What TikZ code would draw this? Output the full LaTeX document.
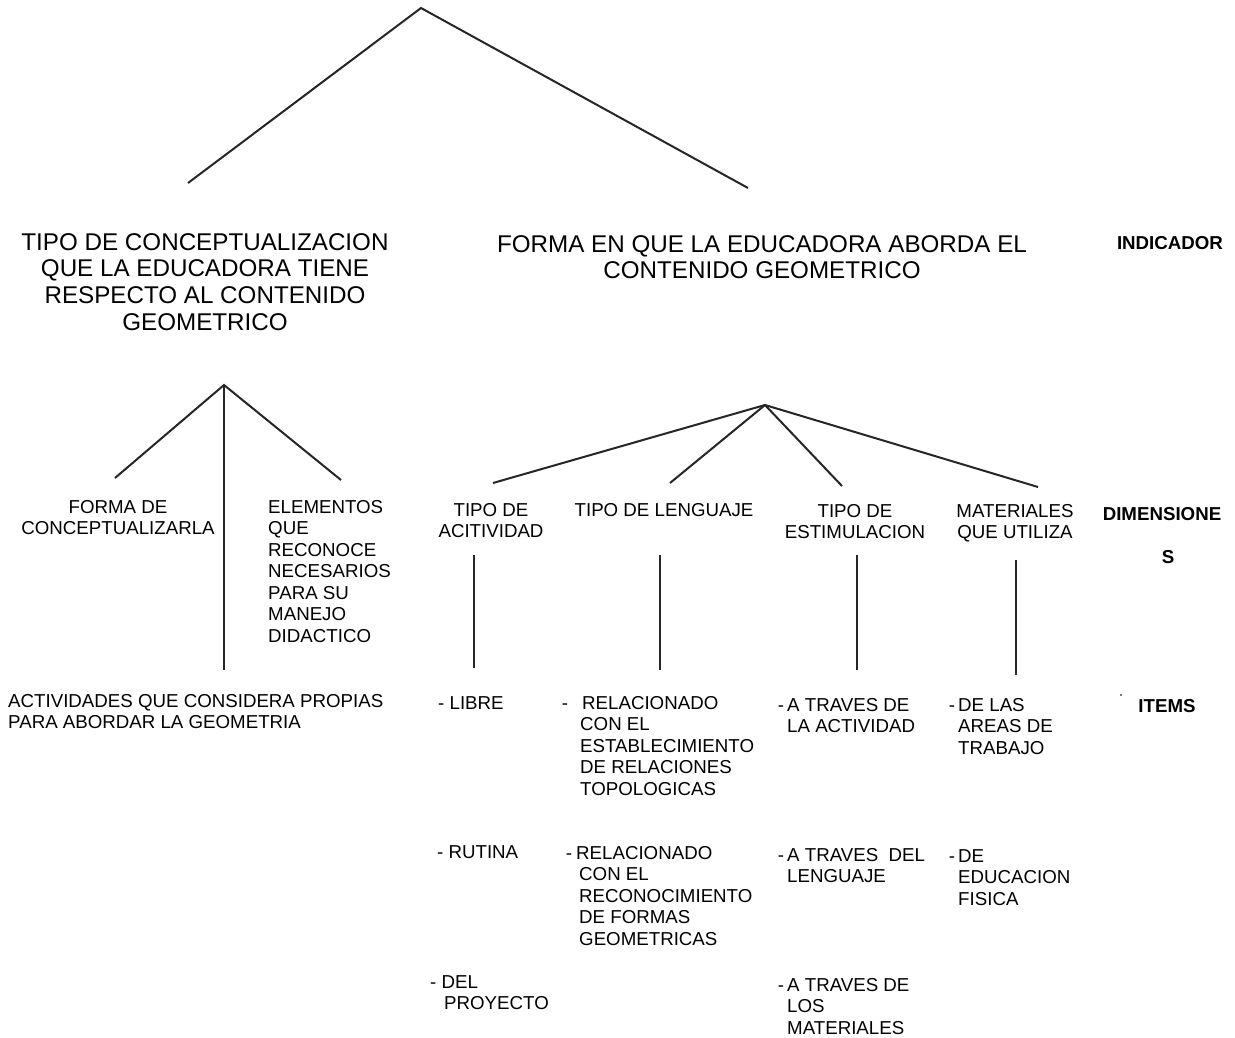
\documentclass[tikz,border=0pt]{standalone}
\usepackage{fontspec}
\setmainfont{Liberation Sans}
\begin{document}
\begin{tikzpicture}[x=1pt,y=-1pt,
  conn/.style={line width=2pt, black!85},
  head/.style={font=\fontsize{24.2}{26.8}\selectfont, inner sep=0, align=center, anchor=north},
  lab/.style={font=\fontsize{18.7}{21.5}\selectfont, inner sep=0},
  labc/.style={lab, align=center, anchor=north},
  labl/.style={lab, align=left, anchor=north west},
  tagc/.style={font=\fontsize{18.7}{21.5}\selectfont\bfseries, inner sep=0, anchor=north}]
\useasboundingbox[fill=white] (0,0) rectangle (1235,1037);

% ---- coordinates of the tree lines
\coordinate (top) at (421,8);
\coordinate (topL) at (188,183);
\coordinate (topR) at (748,188);
\coordinate (lApex) at (224,385);
\coordinate (lL) at (115,478);
\coordinate (lR) at (341,480);
\coordinate (lDown) at (224,670);
\coordinate (rApex) at (765,405);
\coordinate (r1) at (493,483);
\coordinate (r2) at (670,483);
\coordinate (r3) at (842,486);
\coordinate (r4) at (1038,487);
\coordinate (v1a) at (474,555); \coordinate (v1b) at (474,668);
\coordinate (v2a) at (660,555); \coordinate (v2b) at (660,670);
\coordinate (v3a) at (857,555); \coordinate (v3b) at (857,670);
\coordinate (v4a) at (1016,560); \coordinate (v4b) at (1016,675);

% ---- headings
\node[head] (hL) at (205,233) {TIPO DE CONCEPTUALIZACION\\QUE LA EDUCADORA TIENE\\RESPECTO AL CONTENIDO\\GEOMETRICO};
\node[head] (hR) at (762,235) {FORMA EN QUE LA EDUCADORA ABORDA EL\\CONTENIDO GEOMETRICO};
\node[tagc] (ind) at (1170,236) {INDICADOR};

% ---- dimensions
\node[labc] (d1) at (118,500) {FORMA DE\\CONCEPTUALIZARLA};
\node[labl] (d2) at (268,500) {ELEMENTOS\\QUE\\RECONOCE\\NECESARIOS\\PARA SU\\MANEJO\\DIDACTICO};
\node[labl] (d3) at (8,694) {ACTIVIDADES QUE CONSIDERA PROPIAS\\PARA ABORDAR LA GEOMETRIA};
\node[labc] (t1) at (491,503) {TIPO DE\\ACITIVIDAD};
\node[labc] (t2) at (664,503) {TIPO DE LENGUAJE};
\node[labc] (t3) at (855,504) {TIPO DE\\ESTIMULACION};
\node[labc] (t4) at (1015,504) {MATERIALES\\QUE UTILIZA};
\node[tagc] (dim) at (1162,507) {DIMENSIONE};
\node[tagc] (dimS) at (1168,550) {S};
\node[tagc] (items) at (1167,699) {ITEMS};
\fill[black!70] (1121,695) circle (1.1);

% ---- items
\node[labl] (a1) at (438,696) {- LIBRE};
\node[labl] (a2) at (437,845) {- RUTINA};
\node[labl] (a3) at (430,975) {- DEL\\\hspace*{14pt}PROYECTO};

\node[labl] (b1) at (580,696) {\llap{-\hspace{12pt}}\hspace*{2pt}RELACIONADO\\CON EL\\ESTABLECIMIENTO\\DE RELACIONES\\TOPOLOGICAS};
\node[labl] (b2) at (579,846) {\hspace*{-3pt}\llap{-\hspace{4pt}}RELACIONADO\\CON EL\\RECONOCIMIENTO\\DE FORMAS\\GEOMETRICAS};

\node[labl] (c1) at (787,698) {\llap{-\hspace{3pt}}A TRAVES DE\\LA ACTIVIDAD};
\node[labl] (c2) at (787,848) {\llap{-\hspace{3pt}}A TRAVES\ \ DEL\\LENGUAJE};
\node[labl] (c3) at (787,978) {\llap{-\hspace{3pt}}A TRAVES DE\\LOS\\MATERIALES};

\node[labl] (e1) at (958,698) {\llap{-\hspace{3pt}}DE LAS\\AREAS DE\\TRABAJO};
\node[labl] (e2) at (958,849) {\llap{-\hspace{3pt}}DE\\EDUCACION\\FISICA};

% ---- connectors
\draw[conn] (topL) -- (top) -- (topR);
\draw[conn] (lL) -- (lApex) -- (lR);
\draw[conn] (lApex) -- (lDown);
\draw[conn] (rApex) -- (r1);
\draw[conn] (rApex) -- (r2);
\draw[conn] (rApex) -- (r3);
\draw[conn] (rApex) -- (r4);
\draw[conn] (v1a) -- (v1b);
\draw[conn] (v2a) -- (v2b);
\draw[conn] (v3a) -- (v3b);
\draw[conn] (v4a) -- (v4b);
\end{tikzpicture}
\end{document}
